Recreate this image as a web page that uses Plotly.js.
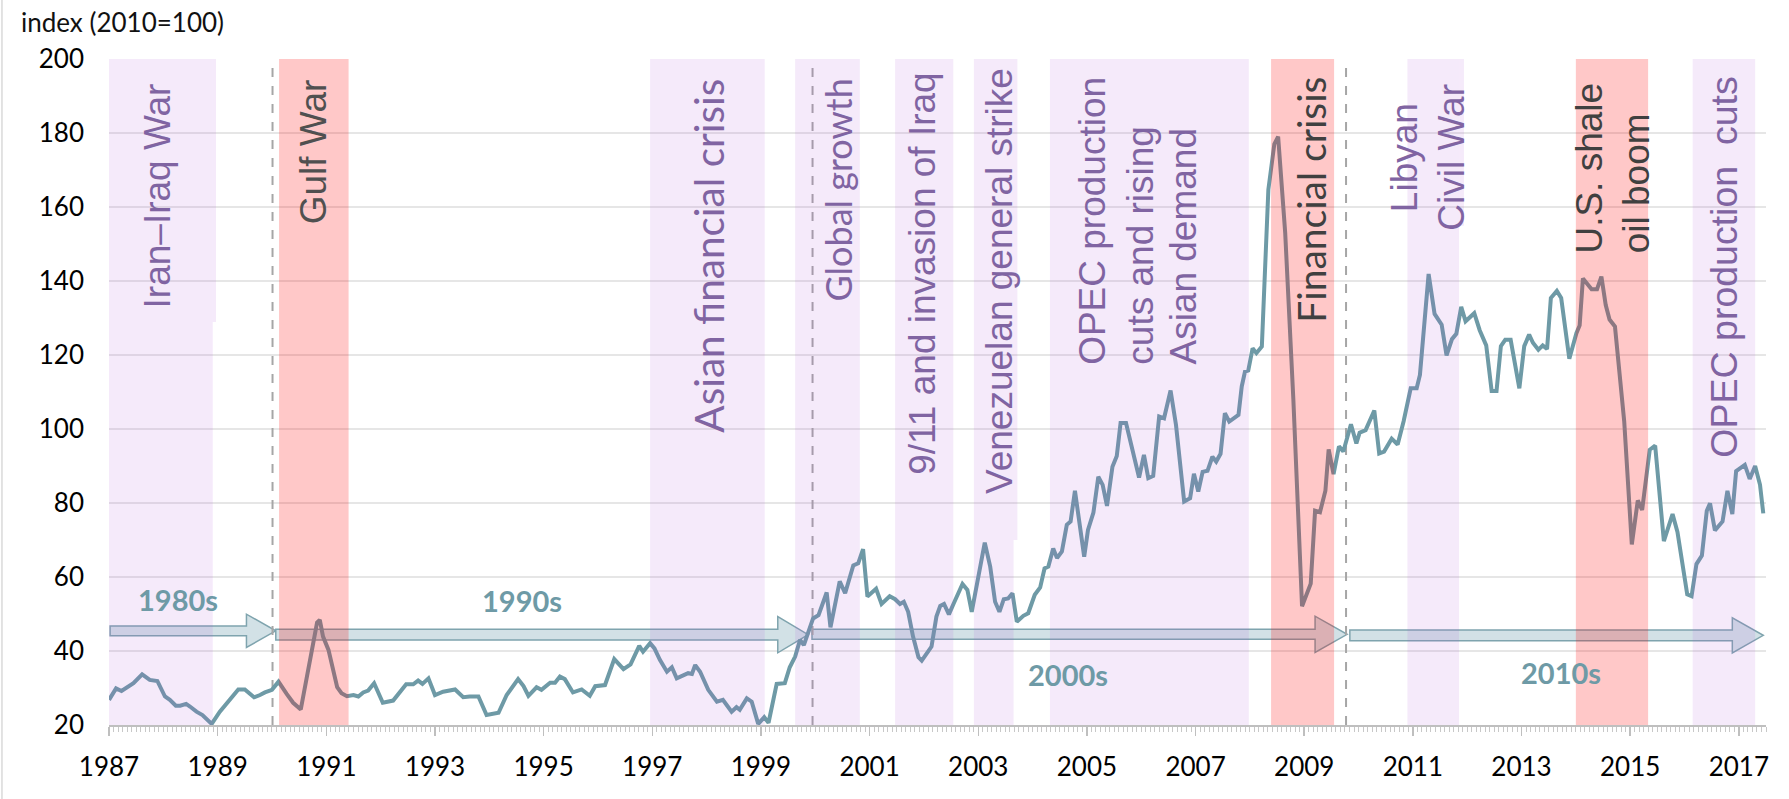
<!DOCTYPE html>
<html><head><meta charset="utf-8">
<script src="https://cdn.plot.ly/plotly-3.0.1.min.js"></script>
<style>html,body{margin:0;padding:0;background:#fff;}#chart{width:1789px;height:799px;}</style>
</head><body><div id="chart"></div>
<script>
// ---- data (decimal year, index 2010=100) ----
const dates = [
1987.00,1987.13,1987.23,1987.45,1987.61,1987.75,1987.89,1988.03,1988.12,1988.23,1988.31,1988.42,1988.49,1988.61,1988.72,1988.89,1989.04,1989.20,1989.38,1989.50,1989.67,1989.78,1989.87,
1990.00,1990.12,1990.27,1990.39,1990.53,1990.83,1990.88,1990.94,1991.04,1991.13,1991.20,1991.28,1991.38,1991.50,1991.59,1991.68,1991.77,1991.88,
1992.04,1992.23,1992.47,1992.60,1992.69,1992.77,1992.88,1993.00,1993.15,1993.37,1993.52,1993.64,1993.80,1993.95,
1994.17,1994.32,1994.53,1994.63,1994.72,1994.87,1994.96,1995.12,1995.21,1995.30,1995.39,1995.54,1995.70,1995.85,1995.95,
1996.13,1996.30,1996.47,1996.60,1996.76,1996.83,1996.96,1997.04,1997.14,1997.27,1997.36,1997.45,1997.66,1997.73,1997.79,1997.88,
1998.03,1998.19,1998.30,1998.46,1998.55,1998.61,1998.74,1998.83,1998.95,1999.06,1999.14,1999.29,1999.44,1999.53,1999.63,1999.72,1999.79,1999.96,
2000.06,2000.21,2000.28,2000.45,2000.55,2000.70,2000.79,2000.88,2000.96,2001.12,2001.22,2001.37,2001.47,2001.56,2001.63,2001.71,2001.80,2001.90,2001.96,
2002.05,2002.14,2002.23,2002.30,2002.37,2002.46,2002.55,2002.71,2002.80,2002.88,2003.12,2003.22,2003.31,2003.39,2003.47,2003.55,2003.63,2003.71,2003.83,2003.92,
2004.04,2004.14,2004.22,2004.29,2004.38,2004.45,2004.54,2004.63,2004.70,2004.78,2004.95,2005.02,2005.12,2005.21,2005.29,2005.37,2005.47,2005.55,2005.62,2005.72,2005.96,
2006.05,2006.13,2006.22,2006.33,2006.42,2006.54,2006.64,2006.79,2006.90,2006.97,2007.05,2007.13,2007.22,2007.31,2007.38,2007.46,2007.54,2007.62,2007.79,2007.85,2007.91,2007.97,
2008.05,2008.12,2008.22,2008.34,2008.45,2008.52,2008.65,2008.80,2008.96,2009.12,2009.20,2009.29,2009.39,2009.45,2009.54,2009.64,2009.72,2009.86,2009.96,
2010.02,2010.13,2010.29,2010.38,2010.47,2010.61,2010.72,2010.83,2010.96,2011.07,2011.13,2011.29,2011.40,2011.53,2011.62,2011.72,2011.80,2011.89,2011.97,
2012.13,2012.23,2012.35,2012.45,2012.54,2012.62,2012.70,2012.80,2012.96,2013.05,2013.14,2013.21,2013.31,2013.39,2013.47,2013.54,2013.65,2013.73,2013.88,
2014.01,2014.07,2014.13,2014.29,2014.39,2014.47,2014.55,2014.62,2014.72,2014.89,2015.03,2015.14,2015.22,2015.36,2015.46,2015.62,2015.78,2015.87,
2016.05,2016.13,2016.22,2016.32,2016.41,2016.47,2016.56,2016.70,2016.79,2016.88,2016.95,2017.11,2017.20,2017.30,2017.39,2017.45];
const values = [
26.8,29.9,29.2,31.3,33.7,32.2,31.9,27.7,26.8,25.2,25.2,25.7,25.0,23.6,22.7,20.3,23.6,26.3,29.6,29.6,27.5,28.1,28.8,
29.5,31.7,28.4,26.0,24.2,47.7,48.4,43.9,40.3,34.9,30.2,28.6,27.8,28.1,27.7,28.8,29.3,31.3,
26.0,26.6,31.0,31.0,32.0,31.1,32.6,28.1,29.0,29.6,27.5,27.7,27.7,22.7,
23.3,28.1,32.4,30.5,27.9,30.2,29.5,31.4,31.4,33.1,32.4,28.8,29.6,27.9,30.5,
30.8,37.8,35.1,36.4,41.4,39.8,42.1,40.7,37.6,34.4,35.6,32.6,34.0,33.8,36.2,34.4,
29.5,26.3,26.8,23.6,24.8,24.1,27.2,26.3,20.3,22.1,20.6,31.1,31.3,35.6,38.5,43.0,41.6,48.8,
49.7,55.8,46.4,58.8,55.6,63.1,63.7,67.5,54.7,56.8,52.7,54.8,54.0,52.7,53.3,50.6,43.9,38.3,37.4,
39.2,41.2,49.3,52.2,52.7,49.9,52.9,58.1,56.5,50.6,69.3,62.8,53.3,50.6,54.0,54.2,55.6,47.9,49.5,50.2,
55.2,57.2,62.3,62.8,67.7,65.1,66.9,74.1,75.0,83.3,65.5,72.7,77.4,87.1,84.9,79.2,89.8,92.7,101.6,101.6,86.9,
93.0,86.7,87.3,103.4,102.9,110.4,101.1,80.4,81.3,87.9,83.1,88.4,88.7,92.5,91.2,93.3,104.3,102.0,103.8,111.5,115.5,115.8,
121.8,120.5,122.3,164.7,177.0,179.0,153.0,108.0,52.1,58.2,77.9,77.5,83.3,94.5,87.8,95.3,93.9,101.3,96.1,
99.0,99.7,105.0,93.4,93.9,97.4,95.8,102.1,111.0,111.0,114.6,141.9,131.1,128.2,119.9,124.3,125.7,133.0,129.1,
131.3,126.7,122.6,110.3,110.3,122.4,124.1,124.1,111.0,122.4,125.5,123.3,121.4,122.6,121.6,135.4,137.3,135.4,119.0,
125.9,128.0,140.7,137.8,137.8,141.2,133.5,129.6,127.7,102.1,68.8,80.7,78.1,94.4,95.5,69.7,77.0,72.2,
55.3,54.8,63.5,65.8,77.9,79.9,72.6,75.0,83.3,77.0,88.6,90.3,86.5,90.0,84.9,77.2];

// event periods
const eventStart = [1987.00,1990.13,1996.96,1999.63,2001.47,2002.92,2004.32,2008.39,2010.90,2014.00,2016.15];
const eventEnd   = [1988.91,1991.41,1999.07,2000.82,2002.54,2003.65,2007.98,2009.55,2011.85,2015.33,2017.30];
const eventKind  = ['p','r','p','p','p','p','p','r','p','r','p'];
const decadeBreaks = [1990.01,1999.95,2009.77];
const decadeLabels = ['1980s','1990s','2000s','2010s'];
const tickYears = [1987,1989,1991,1993,1995,1997,1999,2001,2003,2005,2007,2009,2011,2013,2015,2017];

const PURPLE_FILL='rgba(172,80,213,0.12)', RED_FILL='rgba(255,0,0,0.215)';
const PURPLE_TXT='#8064A2', GREY_TXT='#404040', TEAL='#6E9AA6';
const ARIAL='Liberation Sans, Arial, sans-serif', CAL='Lato, Carlito, Calibri, sans-serif';

const shapes=[];
shapes.push({type:'line',xref:'paper',yref:'paper',x0:-0.0646,x1:-0.0646,y0:-0.12,y1:1.1,line:{color:'#D9D9D9',width:1.5}});
function arrowPath(x0,xh,xt,yc,sh,hh){
  return `M${x0},${yc+sh} L${xh},${yc+sh} L${xh},${yc+hh} L${xt},${yc} L${xh},${yc-hh} L${xh},${yc-sh} L${x0},${yc-sh} Z`;
}
const arrows=[[1987.02,1989.53,1990.07,45.45,1.31,4.5],[1990.07,1999.31,1999.87,44.42,1.45,4.9],
              [1999.94,2009.20,2009.79,44.51,1.35,4.9],[2009.84,2016.88,2017.45,44.23,1.45,4.73]];
arrows.forEach(a=>shapes.push({type:'path',xref:'x',yref:'y',layer:'between',path:arrowPath(...a),
  fillcolor:'rgb(210,225,230)',line:{color:'#7FA4AE',width:1.5}}));
decadeBreaks.forEach(x=>shapes.push({type:'line',xref:'x',yref:'y',layer:'between',x0:x,x1:x,y0:20,y1:200,
  line:{color:'#A6A6A6',width:2,dash:'dash'}}));
eventStart.forEach((s,i)=>shapes.push({type:'rect',xref:'x',yref:'y',layer:'above',x0:s,x1:eventEnd[i],y0:20,y1:200,
  fillcolor:eventKind[i]==='r'?RED_FILL:PURPLE_FILL,line:{width:0}}));
[[1988.91,1988.97,128.9],[2003.65,2003.72,70],[2011.85,2011.94,154.9]].forEach(b=>shapes.push({type:'rect',xref:'x',yref:'y',layer:'above',
  x0:b[0],x1:b[1],y0:b[2],y1:200,fillcolor:PURPLE_FILL,line:{width:0}}));

const ann=[];
function vlab(text,x,y,ya,color,family,size){
  ann.push({text:text,x:x,y:y,xref:'x',yref:'y',showarrow:false,textangle:-90,xanchor:'center',yanchor:ya,
    font:{family:family,size:size,color:color}});
}
vlab('Iran\u2013Iraq War',1987.90,194.05,'top',PURPLE_TXT,ARIAL,37);
vlab('Gulf War',1990.77,195.14,'top','#505050',ARIAL,37);
vlab('Asian financial crisis',1998.04,195.14,'top',PURPLE_TXT,CAL,40.5);
vlab('Global growth',2000.42,195.14,'top',PURPLE_TXT,CAL,36);
vlab('9/11 and invasion of Iraq',2001.98,196.76,'top',PURPLE_TXT,ARIAL,37);
vlab('Venezuelan general strike',2003.38,198.1,'top',PURPLE_TXT,ARIAL,37);
vlab('OPEC production',2005.11,116.76,'bottom',PURPLE_TXT,ARIAL,37);
vlab('cuts and rising',2005.98,116.76,'bottom',PURPLE_TXT,ARIAL,37);
vlab('Asian demand',2006.77,116.76,'bottom',PURPLE_TXT,ARIAL,37);
vlab('Financial crisis',2009.12,195.68,'top',GREY_TXT,CAL,39);
vlab('Libyan',2010.85,173.4,'middle',PURPLE_TXT,ARIAL,37);
vlab('Civil War',2011.72,173.6,'middle',PURPLE_TXT,ARIAL,37);
vlab('U.S. shale',2014.26,147.0,'bottom',GREY_TXT,ARIAL,37);
vlab('oil boom',2015.11,147.0,'bottom',GREY_TXT,ARIAL,37);
vlab('OPEC production\u00a0 cuts',2016.73,195.68,'top',PURPLE_TXT,ARIAL,37.5);

const decPos=[[1988.27,54.05],[1994.60,53.78],[2004.65,33.78],[2013.73,34.14]];
decadeLabels.forEach((t,i)=>ann.push({text:'<b>'+t+'</b>',x:decPos[i][0],y:decPos[i][1],xref:'x',yref:'y',showarrow:false,
  xanchor:'center',yanchor:'middle',font:{family:CAL,size:29,color:TEAL}}));
ann.push({text:'index (2010=100)',xref:'paper',yref:'paper',x:-0.0543,y:1.0556,xanchor:'left',yanchor:'middle',showarrow:false,
  font:{family:CAL,size:26,color:'#111'}});

const trace={x:dates,y:values,type:'scatter',mode:'lines',line:{color:TEAL,width:4},hoverinfo:'skip'};

const layout={
  width:1789,height:799,margin:{l:109,r:23,t:59,b:74},paper_bgcolor:'#fff',plot_bgcolor:'#fff',showlegend:false,
  xaxis:{range:[1987,2017.5],tickmode:'array',tickvals:tickYears,ticktext:tickYears.map(String),ticks:'outside',ticklen:9,tickwidth:1.5,
    tickcolor:'#BFBFBF',showline:true,linecolor:'#BFBFBF',linewidth:1.5,showgrid:false,zeroline:false,
    tickfont:{family:CAL,size:26,color:'#000'},ticklabelstandoff:9,
    minor:{ticks:'outside',ticklen:5,tickwidth:1,tickcolor:'#C8C8C8',dtick:1/12,tick0:1987,showgrid:false}},
  yaxis:{range:[20,200],tickmode:'linear',tick0:20,dtick:20,showgrid:true,gridcolor:'#E6E6E6',gridwidth:1.5,zeroline:false,
    showline:false,ticks:'',tickfont:{family:CAL,size:26,color:'#000'},ticklabelstandoff:24},
  shapes:shapes,annotations:ann
};
Plotly.newPlot('chart',[trace],layout,{displayModeBar:false,staticPlot:true});
</script></body></html>
